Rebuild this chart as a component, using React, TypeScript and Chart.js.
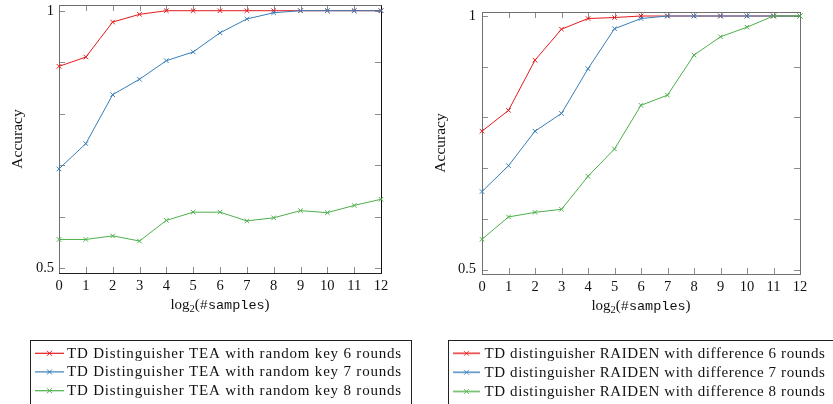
import React, { useEffect, useRef } from 'react';
import { Chart, registerables } from 'chart.js';

Chart.register(...registerables);

// ---------- data ----------
const samplesLog2 = ['0', '1', '2', '3', '4', '5', '6', '7', '8', '9', '10', '11', '12'];
const yTickValues = [0.5, 0.6, 0.7, 0.8, 0.9, 1];
const yTickTexts = ['0.5', '', '', '', '', '1'];

const teaRound6 = [0.892, 0.91, 0.978, 0.993, 1, 1, 1, 1, 1, 1, 1, 1, 1];
const teaRound7 = [0.693, 0.742, 0.837, 0.867, 0.903, 0.92, 0.957, 0.984, 0.996, 1, 1, 1, 1];
const teaRound8 = [0.556, 0.556, 0.563, 0.553, 0.593, 0.609, 0.609, 0.592, 0.598, 0.612, 0.608, 0.622, 0.634];
const teaNames = [
  'TD Distinguisher TEA with random key 6 rounds',
  'TD Distinguisher TEA with random key 7 rounds',
  'TD Distinguisher TEA with random key 8 rounds',
];

const raidenRound6 = [0.773, 0.814, 0.913, 0.974, 0.995, 0.997, 1, 1, 1, 1, 1, 1, 1];
const raidenRound7 = [0.654, 0.705, 0.773, 0.808, 0.896, 0.975, 0.995, 1, 1, 1, 1, 1, 1];
const raidenRound8 = [0.56, 0.604, 0.613, 0.619, 0.684, 0.738, 0.824, 0.844, 0.923, 0.959, 0.978, 1, 1];
const raidenNames = [
  'TD distinguisher RAIDEN with difference 6 rounds',
  'TD distinguisher RAIDEN with difference 7 rounds',
  'TD distinguisher RAIDEN with difference 8 rounds',
];

const seriesColors = ['#e41a1c', '#377eb8', '#4daf4a'];
const legendColors = ['rgba(228,26,28,0.75)', 'rgba(55,126,184,0.75)', 'rgba(77,175,74,0.75)'];

// ---------- style ----------
const SERIF = '"Liberation Serif", "Times New Roman", serif';
const MONO = '"Liberation Mono", "DejaVu Sans Mono", monospace';
const H = 404;
const X_AXIS_H = 60;

type Panel = {
  offsetX: number;
  width: number;
  left: number;
  right: number;
  top: number;
  bottom: number;
  yMin: number;
  yMax: number;
  series: number[][];
  names: string[];
  yTitlePad: number;
  yTickPad: number;
  xTitleY: number;
  frame: { top: string; left: string; right: string; bottom: string };
  legend: {
    boxLeft: number;
    boxRight: number;
    boxTop: number;
    lineX0: number;
    lineX1: number;
    textX: number;
    textWidth: number;
    rows: number[];
    lineWidth: number;
    colors: string[];
  };
};

const teaPanel: Panel = {
  offsetX: 0,
  width: 416,
  left: 59,
  right: 381,
  top: 5,
  bottom: 273,
  yMin: 0.4909,
  yMax: 1.0111,
  series: [teaRound6, teaRound7, teaRound8],
  names: teaNames,
  yTitlePad: 9,
  yTickPad: 5,
  xTitleY: 305,
  frame: { top: '#6e6e6e', left: '#6e6e6e', right: '#111', bottom: '#222' },
  legend: {
    boxLeft: 30,
    boxRight: 411,
    boxTop: 340,
    lineX0: 35,
    lineX1: 64,
    textX: 67,
    textWidth: 335,
    rows: [353.3, 371.9, 390.7],
    lineWidth: 1.2,
    colors: seriesColors,
  },
};

const raidenPanel: Panel = {
  offsetX: 416,
  width: 417,
  left: 66,
  right: 384,
  top: 12,
  bottom: 274,
  yMin: 0.4915,
  yMax: 1.0079,
  series: [raidenRound6, raidenRound7, raidenRound8],
  names: raidenNames,
  yTitlePad: 15.6,
  yTickPad: 6,
  xTitleY: 306.5,
  frame: { top: '#707070', left: '#707070', right: '#707070', bottom: '#707070' },
  legend: {
    boxLeft: 32,
    boxRight: 430,
    boxTop: 340,
    lineX0: 37,
    lineX1: 64,
    textX: 68.5,
    textWidth: 341,
    rows: [353.3, 372.3, 391.5],
    lineWidth: 1.8,
    colors: legendColors,
  },
};

function drawCross(ctx: CanvasRenderingContext2D, x: number, y: number, r: number) {
  ctx.beginPath();
  ctx.moveTo(x - r, y - r);
  ctx.lineTo(x + r, y + r);
  ctx.moveTo(x - r, y + r);
  ctx.lineTo(x + r, y - r);
  ctx.stroke();
}

function makeConfig(p: Panel): any {
  const framePlugin = {
    id: 'frameTicks',
    beforeDatasetsDraw(chart: any) {
      const { ctx, chartArea } = chart;
      const { left, right, top, bottom } = chartArea;
      const xs = chart.scales.x;
      const ys = chart.scales.y;
      ctx.save();
      ctx.lineWidth = 1;
      ctx.strokeStyle = '#8c8c8c';
      ctx.beginPath();
      for (let i = 0; i < samplesLog2.length; i++) {
        const px = Math.round(xs.getPixelForValue(i)) + 0.5;
        ctx.moveTo(px, bottom);
        ctx.lineTo(px, bottom - 6);
        ctx.moveTo(px, top);
        ctx.lineTo(px, top + 6);
      }
      for (const v of yTickValues) {
        const py = Math.round(ys.getPixelForValue(v)) + 0.5;
        ctx.moveTo(left, py);
        ctx.lineTo(left + 6, py);
        ctx.moveTo(right, py);
        ctx.lineTo(right - 6, py);
      }
      ctx.stroke();
      const L = left + 0.5, R = right + 0.5, T = top + 0.5, B = bottom + 0.5;
      const seg = (c: string, x0: number, y0: number, x1: number, y1: number) => {
        ctx.strokeStyle = c;
        ctx.beginPath();
        ctx.moveTo(x0, y0);
        ctx.lineTo(x1, y1);
        ctx.stroke();
      };
      seg(p.frame.top, L - 0.5, T, R + 0.5, T);
      seg(p.frame.left, L, T, L, B + 0.5);
      seg(p.frame.right, R, T, R, B + 0.5);
      seg(p.frame.bottom, L - 0.5, B, R + 0.5, B);
      ctx.restore();
    },
  };

  const extrasPlugin = {
    id: 'extras',
    afterDraw(chart: any) {
      const { ctx, chartArea } = chart;
      ctx.save();
      // x-axis title: log_2(#samples)
      const parts = [
        { t: 'log', font: `15px ${SERIF}`, dy: 0 },
        { t: '2', font: `10.5px ${SERIF}`, dy: 4 },
        { t: '(', font: `15px ${SERIF}`, dy: 0 },
        { t: '#samples', font: `13.5px ${MONO}`, dy: 0 },
        { t: ')', font: `15px ${SERIF}`, dy: 0 },
      ];
      let total = 0;
      const widths = parts.map((pt) => {
        ctx.font = pt.font;
        const w = ctx.measureText(pt.t).width;
        total += w;
        return w;
      });
      let x = (chartArea.left + chartArea.right) / 2 - total / 2;
      ctx.fillStyle = '#111';
      ctx.textBaseline = 'middle';
      ctx.textAlign = 'left';
      parts.forEach((pt, i) => {
        ctx.font = pt.font;
        ctx.fillText(pt.t, x, p.xTitleY + pt.dy);
        x += widths[i];
      });

      // legend
      const lg = p.legend;
      ctx.strokeStyle = '#222';
      ctx.lineWidth = 1;
      ctx.strokeRect(lg.boxLeft + 0.5, lg.boxTop + 0.5, lg.boxRight - lg.boxLeft, H - lg.boxTop + 10);
      p.names.forEach((name, i) => {
        const y = lg.rows[i];
        ctx.strokeStyle = lg.colors[i];
        ctx.lineWidth = lg.lineWidth;
        ctx.beginPath();
        ctx.moveTo(lg.lineX0, y);
        ctx.lineTo(lg.lineX1, y);
        ctx.stroke();
        ctx.lineWidth = 1;
        drawCross(ctx, (lg.lineX0 + lg.lineX1) / 2, y, 2.5);
        ctx.font = `15px ${SERIF}`;
        (ctx as any).letterSpacing = '0px';
        const w = ctx.measureText(name).width;
        const ls = (lg.textWidth - w) / name.length;
        (ctx as any).letterSpacing = `${ls}px`;
        ctx.fillStyle = '#111';
        ctx.textBaseline = 'middle';
        ctx.fillText(name, lg.textX, y + 0.5);
        (ctx as any).letterSpacing = '0px';
      });
      ctx.restore();
    },
  };

  return {
    type: 'line',
    data: {
      labels: samplesLog2,
      datasets: p.series.map((s, i) => ({
        label: p.names[i],
        data: s,
        borderColor: seriesColors[i],
        backgroundColor: seriesColors[i],
        borderWidth: 1,
        pointStyle: 'crossRot',
        pointRadius: 3.2,
        pointHoverRadius: 3.2,
        pointBorderWidth: 1,
        tension: 0,
        clip: false,
        order: 3 - i,
      })),
    },
    options: {
      animation: false,
      responsive: false,
      devicePixelRatio: 1,
      events: [],
      layout: {
        padding: {
          left: 0,
          top: p.top,
          right: p.width - p.right,
          bottom: H - p.bottom - X_AXIS_H,
        },
      },
      plugins: {
        legend: { display: false },
        tooltip: { enabled: false },
      },
      scales: {
        x: {
          type: 'category',
          offset: false,
          grid: { display: false, drawTicks: false },
          border: { display: false },
          ticks: {
            font: { family: SERIF, size: 14.5 },
            color: '#111',
            padding: 4,
            maxRotation: 0,
            autoSkip: false,
          },
          afterFit: (s: any) => {
            s.height = X_AXIS_H;
            s.paddingLeft = 0;
            s.paddingRight = 0;
          },
        },
        y: {
          type: 'linear',
          min: p.yMin,
          max: p.yMax,
          grid: { display: false, drawTicks: false },
          border: { display: false },
          afterBuildTicks: (s: any) => {
            s.ticks = yTickValues.map((v) => ({ value: v }));
          },
          ticks: {
            font: { family: SERIF, size: 14.5 },
            color: '#111',
            padding: p.yTickPad,
            callback: (v: number) => {
              const idx = yTickValues.findIndex((t) => Math.abs(t - v) < 1e-9);
              return idx >= 0 ? yTickTexts[idx] : '';
            },
          },
          title: {
            display: true,
            text: 'Accuracy',
            font: { family: SERIF, size: 15.5 },
            color: '#111',
            padding: { top: p.yTitlePad - 0.3, bottom: 0 },
          },
          afterFit: (s: any) => {
            s.width = p.left;
            s.paddingTop = 0;
            s.paddingBottom = 0;
          },
        },
      },
    },
    plugins: [framePlugin, extrasPlugin],
  };
}

function ChartPanel({ panel }: { panel: Panel }) {
  const ref = useRef<HTMLCanvasElement>(null);
  useEffect(() => {
    const chart = new Chart(ref.current as HTMLCanvasElement, makeConfig(panel));
    return () => chart.destroy();
  }, [panel]);
  return (
    <canvas
      ref={ref}
      width={panel.width}
      height={H}
      style={{ position: 'absolute', left: panel.offsetX, top: 0, width: panel.width, height: H, display: 'block' }}
    />
  );
}

export default function App() {
  return (
    <div
      style={{
        position: 'fixed',
        left: 0,
        top: 0,
        width: 833,
        height: H,
        background: '#fff',
        overflow: 'hidden',
      }}
    >
      <ChartPanel panel={teaPanel} />
      <ChartPanel panel={raidenPanel} />
    </div>
  );
}
